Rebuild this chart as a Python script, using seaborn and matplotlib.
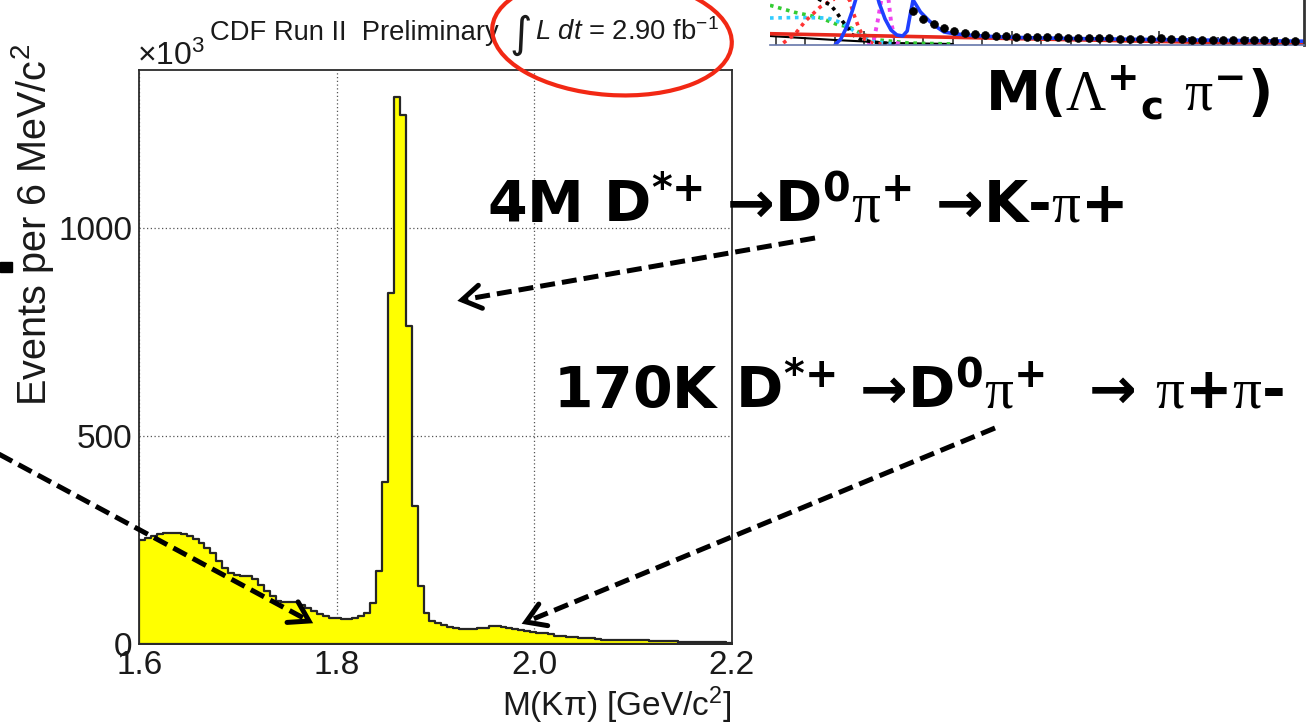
import numpy as np
import pandas as pd
import matplotlib
matplotlib.use("Agg")
import matplotlib.pyplot as plt
from matplotlib.lines import Line2D
from matplotlib.patches import Ellipse, Rectangle
from matplotlib.transforms import IdentityTransform
from matplotlib.ticker import MultipleLocator, FixedLocator
import seaborn as sns

# ---------------------------------------------------------------------------
# D0 -> K pi invariant mass: 6 MeV/c^2 bins from 1.6 to 2.2 GeV/c^2,
# counts in thousands of events
# ---------------------------------------------------------------------------
mass_low = 1.6
mass_high = 2.2
kpi_counts = [
    250, 256, 261, 264, 266, 267, 267, 265, 261, 252,
    243, 232, 218, 200, 182, 170, 166, 165, 163, 156,
    143, 129, 115, 104, 102, 102, 101, 95, 88, 80,
    73, 67, 63, 62, 61, 61, 63, 67, 76, 100,
    176, 390, 842, 1313, 1269, 764, 332, 140, 76, 56,
    50, 46, 41, 38, 37, 37, 37, 38, 40, 43,
    44, 42, 39, 37, 35, 32, 30, 28, 26, 24,
    21, 19, 18, 17, 16, 15, 14, 12, 11, 11,
    10, 10, 10, 10, 10, 10, 9, 7, 7, 7,
    7, 6, 6, 6, 6, 6, 6, 6, 6, 4,
]
x_ticks = [1.6, 1.8, 2.0, 2.2]
x_tick_labels = ["1.6", "1.8", "2.0", "2.2"]
y_ticks = [0, 500, 1000]
y_tick_labels = ["0", "500", "1000"]

# ---------------------------------------------------------------------------
# Lambda_c pi mass fit (upper-right panel): data points and fit components
# ---------------------------------------------------------------------------
lc_mass = [2.533, 2.540, 2.547, 2.554, 2.561, 2.568, 2.575, 2.582, 2.589, 2.596,
           2.603, 2.610, 2.617, 2.624, 2.631, 2.638, 2.645, 2.652, 2.659, 2.666,
           2.673, 2.680, 2.687, 2.694, 2.701, 2.708, 2.715, 2.722, 2.729, 2.736,
           2.743, 2.750, 2.757, 2.764, 2.771, 2.778, 2.785, 2.792]
lc_events = [34, 26, 21, 17, 14.5, 12, 11, 10, 9.5, 9,
             8.5, 8.5, 8, 8.5, 8, 7.5, 7.5, 7.5, 7, 7.5,
             6.5, 6.5, 6.5, 6, 7, 6, 6, 5.5, 5.5, 5.5,
             5.5, 5, 5, 5, 5, 4.5, 4.5, 4.5]

fit_total_m = [2.480, 2.484, 2.488, 2.492, 2.496, 2.500, 2.505, 2.510, 2.514, 2.518,
               2.522, 2.526, 2.529, 2.531, 2.533, 2.538, 2.544, 2.550, 2.554, 2.562,
               2.574, 2.586, 2.597, 2.620, 2.650, 2.700, 2.750, 2.798]
fit_total_y = [0, 6, 18, 35, 55, 75, 70, 42, 26, 15,
               10, 9, 14, 30, 45, 33, 24, 17, 13, 11,
               9.5, 8.5, 7.8, 7.0, 6.3, 5.4, 4.6, 3.8]
bkg_m = [2.436, 2.798]
bkg_y = [11.3, 0.7]
comp_green_m = [2.436, 2.453, 2.470, 2.482, 2.489, 2.500, 2.510, 2.530, 2.560]
comp_green_y = [39.7, 32.6, 27.3, 20.2, 18.4, 10, 5, 2, 1]
comp_cyan_m = [2.436, 2.455, 2.475, 2.485, 2.495, 2.505, 2.520]
comp_cyan_y = [27, 27.5, 27, 22, 12, 4, 1]
comp_red_m = [2.445, 2.453, 2.460, 2.470, 2.477, 2.485, 2.490, 2.492, 2.496, 2.500, 2.506, 2.515]
comp_red_y = [2, 11, 24, 38, 44, 50, 45, 34, 18, 6, 1.5, 0.5]
comp_mag_m = [2.502, 2.506, 2.509, 2.512, 2.514, 2.516, 2.518, 2.521, 2.526]
comp_mag_y = [0.5, 2.4, 24, 50, 60, 50, 24, 2.4, 0.5]
comp_black_m = [2.466, 2.473, 2.477, 2.481, 2.485, 2.489, 2.491, 2.497, 2.505, 2.520]
comp_black_y = [48, 43, 40, 33, 24, 17, 11, 6, 3, 1]
comp_low_m = [2.436, 2.480, 2.520, 2.560]
comp_low_y = [9, 5, 2, 1]

# ---------------------------------------------------------------------------
sns.set_style("white")
plt.rcParams.update({
    "font.family": ["Liberation Sans", "DejaVu Sans"],
    "mathtext.fontset": "custom",
    "mathtext.rm": "Liberation Serif",
    "mathtext.it": "Liberation Sans:italic",
    "mathtext.bf": "DejaVu Sans:bold",
    "mathtext.sf": "Liberation Sans",
})

W, H = 1316, 727
fig = plt.figure(figsize=(W / 100, H / 100), dpi=100)
fig.patch.set_facecolor("white")


def fx(px):
    return px / W


def fy(py):
    return 1 - py / H


# ---- main histogram -------------------------------------------------------
ax = fig.add_axes([fx(139.3), fy(644.3), (731.5 - 139.3) / W, (644.3 - 70) / H])
n_bins = len(kpi_counts)
bin_step = (mass_high - mass_low) / n_bins
centers = mass_low + bin_step * (np.arange(n_bins) + 0.5)
df = pd.DataFrame({"mass": centers, "events": kpi_counts})
sns.histplot(data=df, x="mass", weights="events", bins=n_bins,
             binrange=(mass_low, mass_high), element="step",
             fill=True, color="#ffff00", edgecolor="#262626", linewidth=1.6,
             alpha=1, ax=ax)
ax.set_xlim(mass_low, mass_high)
ax.set_ylim(0, 1378)
ax.set_xlabel("")
ax.set_ylabel("")
ax.xaxis.set_major_locator(FixedLocator(x_ticks))
ax.set_xticklabels(x_tick_labels)
ax.xaxis.set_minor_locator(MultipleLocator(0.05))
ax.yaxis.set_major_locator(FixedLocator(y_ticks))
ax.set_yticklabels(y_tick_labels)
ax.yaxis.set_minor_locator(MultipleLocator(100))
ax.tick_params(which="both", direction="in", top=False, right=False,
               color="#262626", labelsize=24, labelcolor="#1a1a1a")
ax.tick_params(axis="x", which="major", length=12.5, width=1.0, pad=4)
ax.tick_params(axis="y", which="major", length=12.5, width=1.0, pad=5)
ax.tick_params(which="minor", length=6.5, width=1.0)
ax.set_axisbelow(True)
ax.grid(True, which="major", linestyle=(0, (1, 2)), color="#555555", linewidth=0.9)
for sp in ax.spines.values():
    sp.set_color("#2b2b2b")
    sp.set_linewidth(1.3)

fig.text(fx(731.5), fy(716), r"M(K$\mathsf{\pi}$) [GeV/c$^{\mathsf{2}}$]",
         fontsize=24, ha="right", va="baseline", color="#1a1a1a")
fig.text(fx(56), fy(44), r"Events per 6 MeV/c$^{\mathsf{2}}$", fontsize=28.5,
         rotation=90, ha="right", va="top", color="#1a1a1a")
fig.text(fx(137), fy(65), r"×10$^{\mathsf{3}}$", fontsize=23, ha="left",
         va="baseline", color="#1a1a1a")
fig.text(fx(210), fy(39.5), "CDF Run II  Preliminary", fontsize=19.7, ha="left",
         va="baseline", color="#1a1a1a")
fig.text(fx(509), fy(47), "∫", fontsize=31, ha="left", va="baseline",
         color="#1a1a1a", family=["DejaVu Sans"])
fig.text(fx(535), fy(39.5), r"$\mathit{L\ dt}$ = 2.90 fb$^{\mathsf{-1}}$",
         fontsize=19.7, ha="left", va="baseline", color="#1a1a1a")
fig.add_artist(Ellipse((612, H - 36), width=240, height=118, angle=-4,
                       transform=IdentityTransform(), fill=False,
                       edgecolor="#f22814", linewidth=3.0, zorder=4))

# ---- Lambda_c pi panel ---------------------------------------------------
ax2 = fig.add_axes([fx(770), fy(45), (1304 - 770) / W, 400 / H])
ax2.set_xlim(2.436, 2.798)
ax2.set_ylim(0, 400)
dot = (0, (1, 1.3))
sns.lineplot(x=comp_low_m, y=comp_low_y, ax=ax2, color="black", lw=1.5)
sns.lineplot(x=comp_green_m, y=comp_green_y, ax=ax2, color="#33cc33", lw=2.6, linestyle=dot)
sns.lineplot(x=comp_cyan_m, y=comp_cyan_y, ax=ax2, color="#33ccff", lw=2.6, linestyle=dot)
sns.lineplot(x=comp_red_m, y=comp_red_y, ax=ax2, color="#ff3333", lw=2.6, linestyle=dot)
sns.lineplot(x=comp_mag_m, y=comp_mag_y, ax=ax2, color="#ee44ee", lw=2.8, linestyle=dot)
sns.lineplot(x=comp_black_m, y=comp_black_y, ax=ax2, color="black", lw=2.6, linestyle=dot)
sns.lineplot(x=bkg_m, y=bkg_y, ax=ax2, color="#e8281c", lw=2.6)
sns.lineplot(x=fit_total_m, y=fit_total_y, ax=ax2, color="#1f3fff", lw=2.6)
sns.scatterplot(x=lc_mass, y=lc_events, ax=ax2, color="black", s=32,
                edgecolor="black", zorder=5)
ax2.set_xlabel("")
ax2.set_ylabel("")
ax2.xaxis.set_major_locator(MultipleLocator(0.1))
ax2.xaxis.set_minor_locator(MultipleLocator(0.02))
ax2.tick_params(which="both", direction="in", bottom=True, left=False,
                labelbottom=False, labelleft=False, color="#333333")
ax2.tick_params(which="major", length=10, width=1.2)
ax2.tick_params(which="minor", length=6, width=1.2)
ax2.set_yticks([])
ax2.spines["left"].set_visible(False)
ax2.spines["top"].set_visible(False)
ax2.spines["right"].set_linewidth(2.0)
ax2.spines["right"].set_color("#333333")
ax2.spines["bottom"].set_linewidth(1.2)
ax2.spines["bottom"].set_color("#6677aa")
ax2.patch.set_alpha(0)

fig.text(fx(985), fy(110),
         r"M($\mathrm{\Lambda}^{\mathbf{+}}{}_{\mathbf{c}}$ $\mathrm{\pi}^{\mathbf{-}}$)",
         fontsize=40, fontweight="bold", family=["DejaVu Sans"], ha="left",
         va="baseline", color="black")

# ---- decay-channel captions ----------------------------------------------
fig.text(fx(487), fy(222),
         r"4M D$^{\mathbf{*{+}}}$ →D$^{\mathbf{0}}\mathrm{\pi}^{\mathbf{+}}$ →K-$\mathrm{\pi}$+",
         fontsize=41, fontweight="bold", family=["DejaVu Sans"], ha="left",
         va="baseline", color="black")
fig.text(fx(553), fy(408),
         r"170K D$^{\mathbf{*{+}}}$ →D$^{\mathbf{0}}\mathrm{\pi}^{\mathbf{+}}$  → $\mathrm{\pi}$+$\mathrm{\pi}$-",
         fontsize=41, fontweight="bold", family=["DejaVu Sans"], ha="left",
         va="baseline", color="black")


def dashed_arrow(tail, tip, head=22, spread=32):
    (x0, y0), (x1, y1) = tail, tip
    fig.add_artist(Line2D([fx(x0), fx(x1)], [fy(y0), fy(y1)],
                          transform=fig.transFigure, color="black", lw=3.6,
                          linestyle=(0, (3.0, 1.4)), zorder=6))
    ang = np.arctan2(y0 - y1, x0 - x1)
    arms = []
    for s in (-1, 1):
        a = ang + s * np.radians(spread)
        arms.append((x1 + head * np.cos(a), y1 + head * np.sin(a)))
    hx = [arms[0][0], x1, arms[1][0]]
    hy = [arms[0][1], y1, arms[1][1]]
    fig.add_artist(Line2D([fx(v) for v in hx], [fy(v) for v in hy],
                          transform=fig.transFigure, color="black", lw=3.6,
                          solid_joinstyle="miter", zorder=6))


dashed_arrow((815, 238), (462, 300))
dashed_arrow((995, 428), (526, 622))
dashed_arrow((-5, 452), (309, 621))

fig.add_artist(Rectangle((0, fy(272)), fx(12), 10 / H, transform=fig.transFigure,
                         color="black", zorder=6))

fig.savefig("out.png", dpi=100, facecolor="white")
